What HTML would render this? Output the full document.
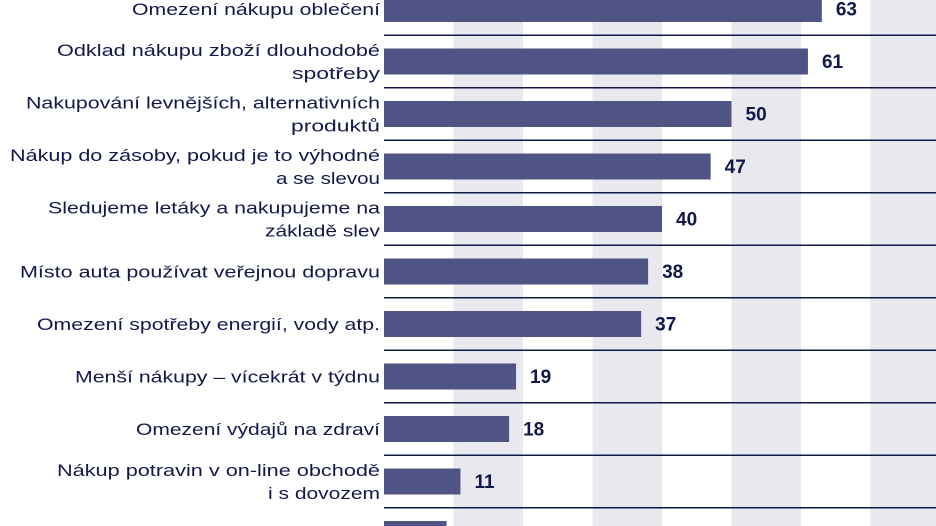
<!DOCTYPE html>
<html><head><meta charset="utf-8"><style>
html,body{margin:0;padding:0;background:#fff;width:936px;height:526px;overflow:hidden}
svg text{font-family:"Liberation Sans",sans-serif}
</style></head><body>
<svg id="chart" width="936" height="526" xmlns="http://www.w3.org/2000/svg"></svg>
<script>
const categories = [
  ["Omezení nákupu oblečení"],
  ["Odklad nákupu zboží dlouhodobé","spotřeby"],
  ["Nakupování levnějších, alternativních","produktů"],
  ["Nákup do zásoby, pokud je to výhodné","a se slevou"],
  ["Sledujeme letáky a nakupujeme na","základě slev"],
  ["Místo auta používat veřejnou dopravu"],
  ["Omezení spotřeby energií, vody atp."],
  ["Menší nákupy – vícekrát v týdnu"],
  ["Omezení výdajů na zdraví"],
  ["Nákup potravin v on-line obchodě","i s dovozem"],
  ["Půjčíme si (kontokorent, spotřebitelské"]
];
const values = [63,61,50,47,40,38,37,19,18,11,9];
const labelWidths = [[248],[323,88],[354,89],[370,104],[332,115],[360],[343],[305],[244],[323,112],[372]];
const stripeStarts = [10,30,50,70];

const svg = document.getElementById('chart');
const NS = 'http://www.w3.org/2000/svg';
const x0 = 384, pxPerUnit = 6.95, rowPitch = 52.5, firstCenter = 9, barH = 26;
const xScale = v => x0 + v * pxPerUnit;
const yCenter = i => firstCenter + i * rowPitch;
function mk(tag, attrs){const e=document.createElementNS(NS,tag);for(const k in attrs)e.setAttribute(k,attrs[k]);svg.appendChild(e);return e;}

stripeStarts.forEach(s=>{
  const r = mk('rect',{x:xScale(s),y:0,width:xScale(s+10)-xScale(s),height:526,fill:'#e8e8ee'});
  
  
});
values.forEach((v,i)=>{
  const c = yCenter(i);
  if(i>0){
    const l = mk('line',{x1:x0,x2:936,y1:c-rowPitch/2,y2:c-rowPitch/2,stroke:'#10184a','stroke-width':1.5});
    
    
  }
  const b = mk('rect',{x:x0,y:c-barH/2,width:xScale(v)-x0,height:barH,fill:'#4f5484'});
  
  
  const t = mk('text',{x:xScale(v)+14,y:c+6.5,'font-size':19,'font-weight':'bold',fill:'#10184a'});
  t.textContent = v;
  
  
  const lines = categories[i];
  lines.forEach((ln,j)=>{
    const yy = lines.length===1 ? c+6 : c-11.5+j*23+6;
    const tx = mk('text',{x:380,y:yy,'text-anchor':'end','font-size':17,fill:'#12184a',textLength:labelWidths[i][j],lengthAdjust:'spacingAndGlyphs'});
    tx.textContent = ln;
    
    
  });
});
</script>
</body></html>
